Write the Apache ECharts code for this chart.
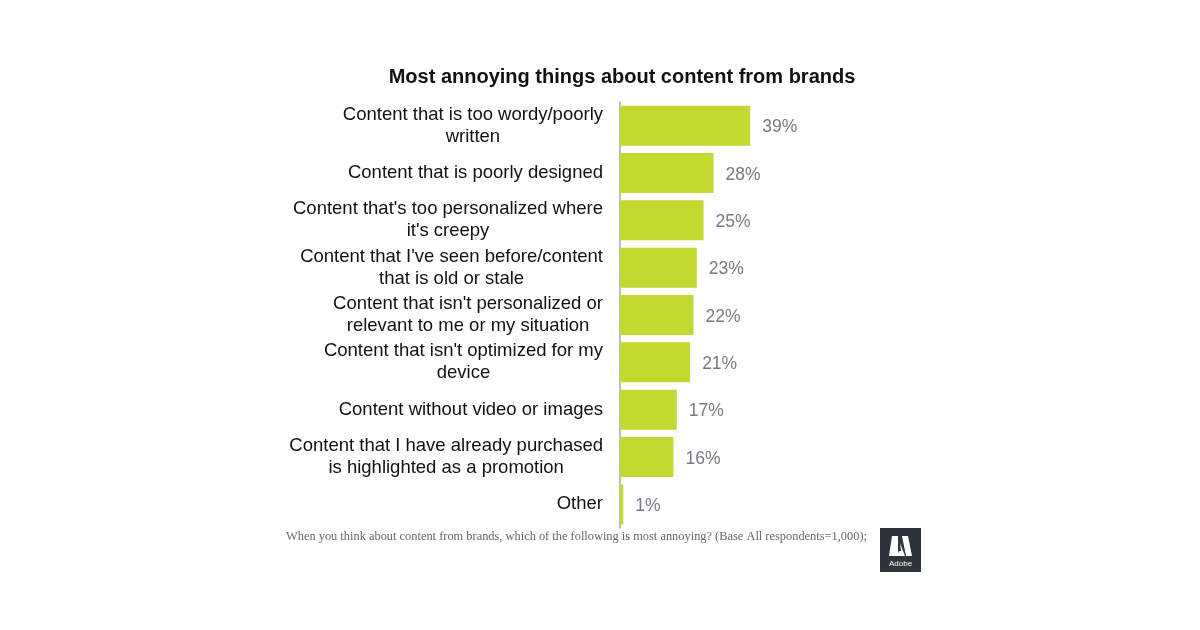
<!DOCTYPE html>
<html><head><meta charset="utf-8">
<script src="https://cdn.jsdelivr.net/npm/echarts@6/dist/echarts.min.js"></script>
<style>html,body{margin:0;padding:0;background:#fff}#c{width:1200px;height:630px}</style>
</head><body><div id="c"></div>
<script>
const categories = [
  "Content that is too wordy/poorly\nwritten",
  "Content that is poorly designed",
  "Content that's too personalized where\nit's creepy",
  "Content that I've seen before/content\nthat is old or stale",
  "Content that isn't personalized or\nrelevant to me or my situation",
  "Content that isn't optimized for my\ndevice",
  "Content without video or images",
  "Content that I have already purchased\nis highlighted as a promotion",
  "Other"
];
const values = [39, 28, 25, 23, 22, 21, 17, 16, 1];
const titleText = "Most annoying things about content from brands";
const footnote = "When you think about content from brands, which of the following is most annoying? (Base All respondents=1,000);";

const chart = echarts.init(document.getElementById('c'), null, {renderer: 'canvas'});
chart.setOption({
  backgroundColor: '#fff',
  animation: false,
  title: {
    text: titleText, left: 617, top: 62, textAlign: 'center',
    textStyle: {fontFamily: 'Liberation Sans, Arial, sans-serif', fontWeight: 'bold', fontSize: 20, color: '#111'}
  },
  grid: {left: 620, top: 102, width: 167, height: 426, containLabel: false},
  xAxis: {type: 'value', min: 0, max: 50, show: false},
  yAxis: {
    type: 'category', data: categories, inverse: true,
    axisLine: {show: true, lineStyle: {color: '#a8a8a8', width: 1.5}},
    axisTick: {show: false},
    axisLabel: {
      margin: 17, align: 'right',
      formatter: v => v.split('\n').map(l => '{c|' + l + '}').join('\n'),
      rich: {c: {align: 'center', lineHeight: 22, fontFamily: 'Liberation Sans, Arial, sans-serif', fontSize: 18.5, color: '#111'}}
    }
  },
  series: [{
    type: 'bar', data: values, barWidth: 40,
    itemStyle: {color: '#c3d92f'},
    label: {
      show: true, position: 'right', distance: 12, offset: [0, 2],
      formatter: p => p.value + '%',
      fontFamily: 'Liberation Sans, Arial, sans-serif', fontSize: 17.5, color: '#777a80'
    }
  }],
  graphic: [
    {type: 'text', left: 286, top: 531, style: {text: footnote, font: '12.4px "Liberation Serif", "Times New Roman", serif', fill: '#666'}},
    {type: 'rect', shape: {x: 880, y: 528, width: 41, height: 44}, style: {fill: '#2f343b'}},
    {type: 'polygon', shape: {points: [[892,536],[898,536],[898,556],[889,556]]}, style: {fill: '#fff'}},
    {type: 'polygon', shape: {points: [[902,536],[908,536],[912,556],[906,556]]}, style: {fill: '#fff'}},
    {type: 'polygon', shape: {points: [[900,543],[905,556],[897,556],[899,551],[901,551]]}, style: {fill: '#fff'}},
    {type: 'text', left: 889, top: 560, style: {text: 'Adobe', font: '8px "Liberation Sans", Arial, sans-serif', fill: '#fff'}}
  ]
});
</script></body></html>
